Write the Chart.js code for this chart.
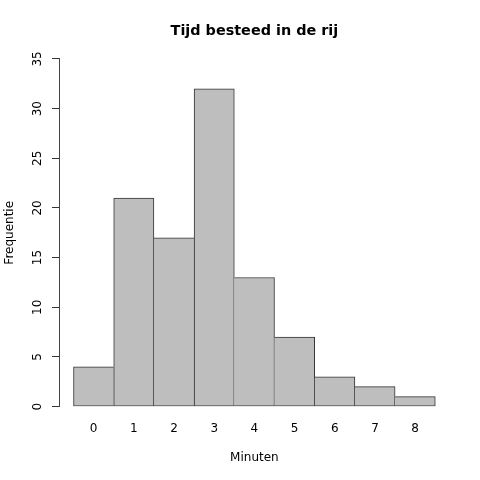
<!DOCTYPE html>
<html>
<head>
<meta charset="utf-8">
<script src="https://cdn.jsdelivr.net/npm/chart.js@4/dist/chart.umd.min.js"></script>
<style>
  html, body { margin: 0; padding: 0; background: #fff; }
  #wrap { width: 480px; height: 480px; }
</style>
</head>
<body>
<div id="wrap"><canvas id="hist" width="480" height="480"></canvas></div>
<script>
// Histogram data (minutes waited in the queue)
const minutes = ['0', '1', '2', '3', '4', '5', '6', '7', '8'];
const counts = [4, 21, 17, 32, 13, 7, 3, 2, 1];
const yTicks = [0, 5, 10, 15, 20, 25, 30, 35];

Chart.defaults.font.family = 'DejaVu Sans';
Chart.defaults.font.size = 12;
Chart.defaults.color = '#000';

// shared edges between neighbouring bars get a single line, owned by the taller bar
function barBorder(ctx) {
    const i = ctx.dataIndex;
    const prev = i > 0 ? counts[i - 1] : -1;
    const next = i < counts.length - 1 ? counts[i + 1] : -1;
    return {
        top: 1,
        bottom: 1,
        left: prev <= counts[i] ? 1 : 0,
        right: next < counts[i] ? 1 : 0
    };
}

new Chart(document.getElementById('hist').getContext('2d'), {
    type: 'bar',
    data: {
        datasets: [{
            data: counts.map((c, i) => ({ x: i + 0.5, y: c })),
            backgroundColor: '#bebebe',
            borderColor: '#333',
            borderWidth: barBorder,
            borderSkipped: false,
            barPercentage: 1,
            categoryPercentage: 1
        }]
    },
    options: {
        responsive: false,
        animation: false,
        layout: {
            padding: { left: 0, right: 30.24, top: 0, bottom: 0 }
        },
        plugins: {
            legend: { display: false },
            tooltip: { enabled: false },
            title: {
                display: true,
                text: 'Tijd besteed in de rij',
                fullSize: false,
                font: { size: 14.4, weight: 'bold' },
                padding: { top: 22.4, bottom: 19.3 }
            }
        },
        scales: {
            x: {
                type: 'linear',
                min: -0.36,
                max: 9.36,
                offset: false,
                grid: { display: false, drawTicks: false },
                border: { display: false },
                afterBuildTicks: scale => {
                    scale.ticks = minutes.map((m, i) => ({ value: i + 0.5 }));
                },
                afterFit: scale => { scale.height = 73.44; },
                ticks: {
                    padding: 15.2,
                    autoSkip: false,
                    maxRotation: 0,
                    callback: (value, index) => minutes[index]
                },
                title: {
                    display: true,
                    text: 'Minuten',
                    padding: { top: 0, bottom: 14.8 }
                }
            },
            y: {
                min: 0,
                max: 35,
                grid: {
                    drawOnChartArea: false,
                    drawTicks: true,
                    tickLength: 7,
                    color: '#333'
                },
                border: { display: true, color: '#444', width: 1 },
                afterBuildTicks: scale => {
                    scale.ticks = yTicks.map(v => ({ value: v }));
                },
                afterFit: scale => { scale.width = 59.04; },
                ticks: {
                    autoSkip: false,
                    minRotation: 90,
                    maxRotation: 90,
                    crossAlign: 'center',
                    padding: 6.4
                },
                title: {
                    display: true,
                    text: 'Frequentie',
                    padding: { top: 3, bottom: 0 }
                }
            }
        }
    }
});
</script>
</body>
</html>
